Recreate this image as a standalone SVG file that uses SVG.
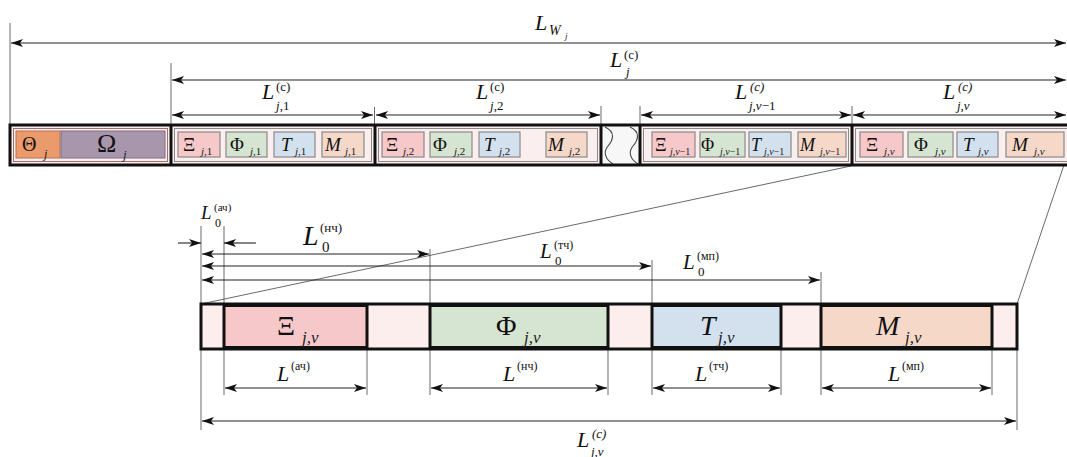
<svg xmlns="http://www.w3.org/2000/svg" width="1067" height="457" viewBox="0 0 1067 457">
<style>
.L{font-family:"Liberation Serif","DejaVu Serif",serif;font-style:italic;fill:#111}
.u{font-family:"Liberation Serif","DejaVu Serif",serif;fill:#111}
.i{font-family:"Liberation Serif","DejaVu Serif",serif;font-style:italic;fill:#222}
.dim{stroke:#222;stroke-width:1.1;fill:none}
.ext{stroke:#444;stroke-width:0.8;fill:none}
.sb{stroke:#8a8a8a;stroke-width:1.2}
.thick{stroke:#111;stroke-width:3;fill:none}
.blk{stroke:#111;stroke-width:3}
.wave{fill:none;stroke:#444;stroke-width:1.1}
</style>
<defs>
<marker id="ah" viewBox="0 0 12 8" refX="12" refY="4" markerWidth="12" markerHeight="8" markerUnits="userSpaceOnUse" orient="auto-start-reverse">
<path d="M0,0 L12,4 L0,8 L3,4 Z" fill="#111"/>
</marker>
</defs>
<rect width="1067" height="457" fill="#fff"/>

<g id="connectors">
<line class="ext" x1="10" y1="23" x2="10" y2="125"/>
<line class="ext" x1="171" y1="63" x2="171" y2="125"/>
<line class="ext" x1="374.5" y1="107" x2="374.5" y2="125"/>
<line class="ext" x1="601" y1="106" x2="601" y2="125"/>
<line class="ext" x1="640" y1="106" x2="640" y2="125"/>
<line class="ext" x1="852" y1="106" x2="852" y2="125"/>
<line class="dim" x1="11" y1="43" x2="1066" y2="43" marker-start="url(#ah)" marker-end="url(#ah)"/>
<line class="dim" x1="172" y1="80" x2="1066" y2="80" marker-start="url(#ah)" marker-end="url(#ah)"/>
<line class="dim" x1="172" y1="115" x2="373" y2="115" marker-start="url(#ah)" marker-end="url(#ah)"/>
<line class="dim" x1="376" y1="115" x2="600" y2="115" marker-start="url(#ah)" marker-end="url(#ah)"/>
<line class="dim" x1="641" y1="115" x2="851" y2="115" marker-start="url(#ah)" marker-end="url(#ah)"/>
<line class="dim" x1="853" y1="115" x2="1066" y2="115" marker-start="url(#ah)" marker-end="url(#ah)"/>
<line class="ext" x1="851" y1="166" x2="201" y2="304"/>
<line class="ext" x1="1064" y1="165" x2="1017" y2="304"/>
<line class="ext" x1="201" y1="226" x2="201" y2="304"/>
<line class="ext" x1="224" y1="226" x2="224" y2="304"/>
<line class="ext" x1="430" y1="249" x2="430" y2="304"/>
<line class="ext" x1="652" y1="260" x2="652" y2="304"/>
<line class="ext" x1="821" y1="272" x2="821" y2="304"/>
<line class="dim" x1="178" y1="243" x2="201" y2="243" marker-end="url(#ah)"/>
<line class="dim" x1="256" y1="243" x2="224" y2="243" marker-end="url(#ah)"/>
<line class="dim" x1="202" y1="254" x2="429" y2="254" marker-start="url(#ah)" marker-end="url(#ah)"/>
<line class="dim" x1="202" y1="266" x2="651" y2="266" marker-start="url(#ah)" marker-end="url(#ah)"/>
<line class="dim" x1="202" y1="280" x2="820" y2="280" marker-start="url(#ah)" marker-end="url(#ah)"/>
<line class="ext" x1="201" y1="349" x2="201" y2="430"/>
<line class="ext" x1="1017" y1="349" x2="1017" y2="430"/>
<line class="ext" x1="224" y1="349" x2="224" y2="395"/>
<line class="ext" x1="367" y1="349" x2="367" y2="395"/>
<line class="ext" x1="430" y1="349" x2="430" y2="395"/>
<line class="ext" x1="608" y1="349" x2="608" y2="395"/>
<line class="ext" x1="652" y1="349" x2="652" y2="395"/>
<line class="ext" x1="781" y1="349" x2="781" y2="395"/>
<line class="ext" x1="821" y1="349" x2="821" y2="395"/>
<line class="ext" x1="992" y1="349" x2="992" y2="395"/>
<line class="dim" x1="225" y1="388" x2="366" y2="388" marker-start="url(#ah)" marker-end="url(#ah)"/>
<line class="dim" x1="431" y1="388" x2="607" y2="388" marker-start="url(#ah)" marker-end="url(#ah)"/>
<line class="dim" x1="653" y1="388" x2="780" y2="388" marker-start="url(#ah)" marker-end="url(#ah)"/>
<line class="dim" x1="822" y1="388" x2="991" y2="388" marker-start="url(#ah)" marker-end="url(#ah)"/>
<line class="dim" x1="202" y1="421" x2="1016" y2="421" marker-start="url(#ah)" marker-end="url(#ah)"/>
</g>

<g id="section-header">
<rect x="10" y="125" width="161" height="40" fill="#fbeeee"/>
<rect x="13.5" y="128.5" width="154" height="33" fill="none" stroke="#a07070" stroke-width="1"/>
<rect x="16" y="131" width="44" height="27" fill="#eb9a6c" stroke="#b77050" stroke-width="1"/>
<rect x="61" y="131" width="104" height="27" fill="#a896ad" stroke="#7f6d84" stroke-width="1"/>
<text class="u" x="22" y="151" font-size="20">Θ</text><text class="i" x="44" y="158" font-size="12">j</text>
<text class="u" x="97" y="152" font-size="26">Ω</text><text class="i" x="123" y="159" font-size="13">j</text>
</g>

<g id="section-1">
<rect x="171" y="125" width="204" height="40" fill="#fbeeee"/>
<rect x="174.5" y="128.5" width="197" height="33" fill="none" stroke="#8a8a8a" stroke-width="1"/>
<rect x="178" y="132" width="42" height="25" fill="#f6c8c9" class="sb"/>
<rect x="226" y="132" width="41" height="25" fill="#d6e5d1" class="sb"/>
<rect x="274" y="132" width="41" height="25" fill="#d3e1ee" class="sb"/>
<rect x="322" y="132" width="42" height="25" fill="#f6d8c9" class="sb"/>
<text class="u" x="183" y="151" font-size="19">Ξ</text><text class="i" x="201" y="155" font-size="11">j<tspan font-style="normal">,1</tspan></text>
<text class="u" x="230" y="151" font-size="19">Φ</text><text class="i" x="250" y="155" font-size="11">j<tspan font-style="normal">,1</tspan></text>
<text class="L" x="281" y="151" font-size="19">T</text><text class="i" x="295" y="155" font-size="11">j<tspan font-style="normal">,1</tspan></text>
<text class="L" x="325" y="151" font-size="19">M</text><text class="i" x="345" y="155" font-size="11">j<tspan font-style="normal">,1</tspan></text>
</g>

<g id="section-2">
<rect x="375" y="125" width="226" height="40" fill="#fbeeee"/>
<rect x="378.5" y="128.5" width="219" height="33" fill="none" stroke="#8a8a8a" stroke-width="1"/>
<rect x="382" y="132" width="42" height="25" fill="#f6c8c9" class="sb"/>
<rect x="430" y="132" width="42" height="25" fill="#d6e5d1" class="sb"/>
<rect x="479" y="132" width="41" height="25" fill="#d3e1ee" class="sb"/>
<rect x="546" y="132" width="41" height="25" fill="#f6d8c9" class="sb"/>
<text class="u" x="386" y="151" font-size="19">Ξ</text><text class="i" x="403" y="155" font-size="11">j<tspan font-style="normal">,2</tspan></text>
<text class="u" x="433" y="151" font-size="19">Φ</text><text class="i" x="454" y="155" font-size="11">j<tspan font-style="normal">,2</tspan></text>
<text class="L" x="484" y="151" font-size="19">T</text><text class="i" x="499" y="155" font-size="11">j<tspan font-style="normal">,2</tspan></text>
<text class="L" x="548" y="151" font-size="19">M</text><text class="i" x="569" y="155" font-size="11">j<tspan font-style="normal">,2</tspan></text>
</g>

<g id="gap">
<rect x="601" y="125" width="39" height="40" fill="#f7f7f7"/>
<path class="wave" d="M605,127 C616,132 613,140 608,146 C603,152 605,159 613,164"/>
<path class="wave" d="M630,127 C641,132 638,140 633,146 C628,152 630,159 638,164"/>
</g>

<g id="section-nu-1">
<rect x="640" y="125" width="212" height="40" fill="#fbeeee"/>
<rect x="643.5" y="128.5" width="205" height="33" fill="none" stroke="#8a8a8a" stroke-width="1"/>
<rect x="652" y="132" width="43" height="25" fill="#f6c8c9" class="sb"/>
<rect x="700" y="132" width="45" height="25" fill="#d6e5d1" class="sb"/>
<rect x="749" y="132" width="42" height="25" fill="#d3e1ee" class="sb"/>
<rect x="798" y="132" width="48" height="25" fill="#f6d8c9" class="sb"/>
<text class="u" x="655" y="151" font-size="18">Ξ</text><text class="i" x="670" y="155" font-size="10">j,ν<tspan font-style="normal">−1</tspan></text>
<text class="u" x="701" y="151" font-size="18">Φ</text><text class="i" x="720" y="155" font-size="10">j,ν<tspan font-style="normal">−1</tspan></text>
<text class="L" x="751" y="151" font-size="18">T</text><text class="i" x="764" y="155" font-size="10">j,ν<tspan font-style="normal">−1</tspan></text>
<text class="L" x="800" y="151" font-size="18">M</text><text class="i" x="820" y="155" font-size="10">j,ν<tspan font-style="normal">−1</tspan></text>
</g>

<g id="section-nu">
<rect x="852" y="125" width="220" height="40" fill="#fbeeee"/>
<rect x="855.5" y="128.5" width="220" height="33" fill="none" stroke="#8a8a8a" stroke-width="1"/>
<rect x="860" y="132" width="43" height="25" fill="#f6c8c9" class="sb"/>
<rect x="908" y="132" width="45" height="25" fill="#d6e5d1" class="sb"/>
<rect x="957" y="132" width="41" height="25" fill="#d3e1ee" class="sb"/>
<rect x="1006" y="132" width="58" height="25" fill="#f6d8c9" class="sb"/>
<text class="u" x="866" y="151" font-size="19">Ξ</text><text class="i" x="884" y="155" font-size="11">j,ν</text>
<text class="u" x="914" y="151" font-size="19">Φ</text><text class="i" x="935" y="155" font-size="11">j,ν</text>
<text class="L" x="963" y="151" font-size="19">T</text><text class="i" x="978" y="155" font-size="11">j,ν</text>
<text class="L" x="1012" y="151" font-size="19">M</text><text class="i" x="1034" y="155" font-size="11">j,ν</text>
</g>

<g id="top-bar-frame">
<rect x="10" y="125" width="1070" height="40" class="thick"/>
<line class="blk" x1="171" y1="125" x2="171" y2="165"/>
<line class="blk" x1="375" y1="125" x2="375" y2="165"/>
<line class="blk" x1="601" y1="125" x2="601" y2="165"/>
<line class="blk" x1="640" y1="125" x2="640" y2="165"/>
<line class="blk" x1="852" y1="125" x2="852" y2="165"/>
</g>

<g id="detail-bar">
<rect x="201" y="304" width="816" height="45" fill="#fdeeee"/>
<rect x="224" y="305.5" width="143" height="42" fill="#f6c8c9" class="blk"/>
<rect x="430" y="305.5" width="178" height="42" fill="#d6e5d1" class="blk"/>
<rect x="652" y="305.5" width="129" height="42" fill="#d3e1ee" class="blk"/>
<rect x="821" y="305.5" width="171" height="42" fill="#f6d8c9" class="blk"/>
<rect x="201" y="304" width="816" height="45" class="thick"/>
<text class="u" x="277" y="335" font-size="28">Ξ</text><text class="i" x="302" y="343" font-size="17">j,ν</text>
<text class="u" x="496" y="335" font-size="28">Φ</text><text class="i" x="524" y="343" font-size="17">j,ν</text>
<text class="L" x="700" y="335" font-size="28">T</text><text class="i" x="718" y="343" font-size="17">j,ν</text>
<text class="L" x="876" y="335" font-size="28">M</text><text class="i" x="905" y="343" font-size="17">j,ν</text>
</g>

<g id="labels">
<text class="L" x="535" y="30" font-size="22">L</text><text class="L" x="549" y="35" font-size="14">W</text><text class="L" x="565" y="39" font-size="9">j</text>
<text class="L" x="610" y="67" font-size="22">L</text><text class="u" x="624" y="59" font-size="13">(c)</text><text class="L" x="626" y="76" font-size="13">j</text>

<text class="L" x="262" y="99" font-size="22">L</text><text class="u" x="276" y="91" font-size="13">(c)</text><text class="L" x="276" y="110" font-size="13">j<tspan font-style="normal">,1</tspan></text>
<text class="L" x="476" y="99" font-size="22">L</text><text class="u" x="490" y="91" font-size="13">(c)</text><text class="L" x="490" y="110" font-size="13">j<tspan font-style="normal">,2</tspan></text>
<text class="L" x="735" y="99" font-size="22">L</text><text class="L" x="750" y="91" font-size="13">(c)</text><text class="L" x="749" y="110" font-size="13">j,ν<tspan font-style="normal">−1</tspan></text>
<text class="L" x="943" y="99" font-size="22">L</text><text class="L" x="958" y="91" font-size="13">(c)</text><text class="L" x="957" y="110" font-size="13">j,ν</text>

<text class="L" x="201" y="219" font-size="19">L</text><text class="u" x="214" y="211" font-size="11">(ач)</text><text class="u" x="215" y="227" font-size="12">0</text>
<text class="L" x="303" y="245" font-size="28">L</text><text class="u" x="320" y="232" font-size="13">(нч)</text><text class="u" x="322" y="252" font-size="15">0</text>
<text class="L" x="540" y="258" font-size="21">L</text><text class="u" x="554" y="249" font-size="12">(тч)</text><text class="u" x="555" y="265" font-size="13">0</text>
<text class="L" x="683" y="269" font-size="21">L</text><text class="u" x="697" y="260" font-size="12">(мп)</text><text class="u" x="698" y="276" font-size="13">0</text>

<text class="L" x="277" y="381" font-size="22">L</text><text class="u" x="291" y="370" font-size="12">(ач)</text>
<text class="L" x="503" y="381" font-size="22">L</text><text class="u" x="517" y="370" font-size="12">(нч)</text>
<text class="L" x="695" y="381" font-size="22">L</text><text class="u" x="709" y="370" font-size="12">(тч)</text>
<text class="L" x="888" y="381" font-size="22">L</text><text class="u" x="902" y="370" font-size="12">(мп)</text>

<text class="L" x="577" y="447" font-size="22">L</text><text class="L" x="592" y="438" font-size="13">(c)</text><text class="L" x="591" y="456" font-size="13">j,ν</text>
</g>
</svg>
